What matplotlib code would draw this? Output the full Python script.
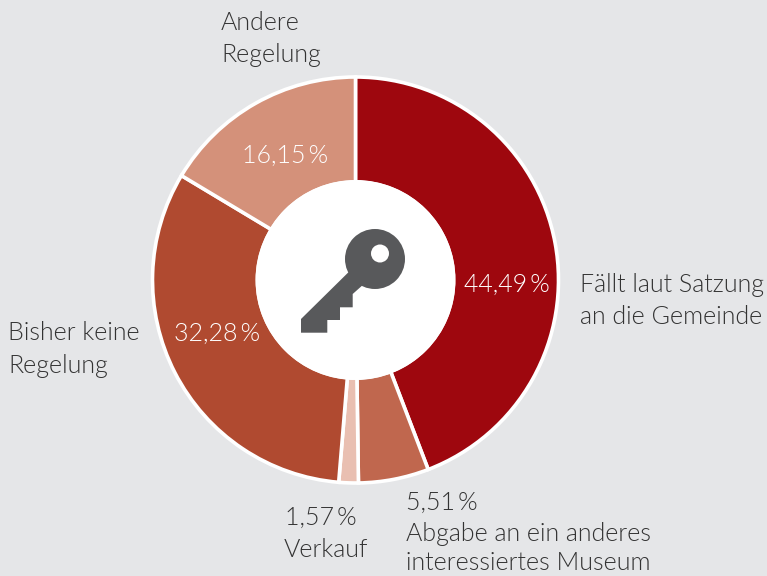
import matplotlib
matplotlib.use("Agg")
import matplotlib.pyplot as plt
from matplotlib import font_manager as fm
from matplotlib.patches import Circle, PathPatch
from matplotlib.path import Path
import os

# arc shares as drawn in the picture; printed labels are kept as text below
shares = [44.17, 5.60, 1.55, 32.28, 16.40]
colors = ["#9E070E", "#C0674E", "#E9BFB1", "#B04A30", "#D4917A"]
pct_labels = ["44,49\u2009%", "32,28\u2009%", "16,15\u2009%"]

BG = "#E5E6E8"
TXT = "#333333"
H = 576
CX, CY = 355.5, 280

light = [f for f in fm.findSystemFonts() if os.path.basename(f).lower() in ("lato-light.ttf", "lato-light.otf")]
fp = fm.FontProperties(fname=light[0]) if light else fm.FontProperties(family="Lato")
fp.set_size(18)

fig = plt.figure(figsize=(7.67, 5.76), dpi=100, facecolor=BG)
ax = fig.add_axes([0, 0, 1, 1])

ax.pie(shares, colors=colors, startangle=90, counterclock=False,
       center=(CX, H - CY), radius=203,
       wedgeprops=dict(width=105, edgecolor="white", linewidth=2.6))
ax.set_xlim(0, 767)
ax.set_ylim(0, H)
ax.set_aspect("auto")
ax.axis("off")

ax.add_patch(Circle((CX, H - CY), 100, fc="white", ec="none", zorder=3))

# key icon
key_xy = [(348, 272.7), (301, 319), (301, 332.7), (327.3, 332.7), (327.3, 320),
          (340, 320), (340, 307.3), (352.7, 307.3), (352.7, 294), (361.7, 286),
          (375, 259), (348, 272.7)]
KEY = "#58595B"
ax.add_patch(PathPatch(Path([(x, H - y) for x, y in key_xy]), fc=KEY, ec="none", zorder=4))
ax.add_patch(Circle((375, H - 259), 30, fc=KEY, ec="none", zorder=4))
ax.add_patch(Circle((380, H - 253.5), 9, fc="white", ec="none", zorder=5))

def t(x, y, s, color=TXT, ha="left"):
    ax.text(x, H - y, s, fontproperties=fp, color=color, ha=ha, va="baseline", zorder=6)

t(506.5, 292, pct_labels[0], "white", "center")
t(217, 341, pct_labels[1], "white", "center")
t(285, 163, pct_labels[2], "white", "center")

t(221, 30, "Andere")
t(221, 62, "Regelung")
t(580, 292, "Fällt laut Satzung")
t(580, 324, "an die Gemeinde")
t(8, 340, "Bisher keine")
t(8, 373, "Regelung")
t(285, 525, "1,57\u2009%")
t(284, 557, "Verkauf")
t(406, 510, "5,51\u2009%")
t(406, 541, "Abgabe an ein anderes")
t(406, 570, "interessiertes Museum")

fig.savefig("out.png", dpi=100, facecolor=BG)
